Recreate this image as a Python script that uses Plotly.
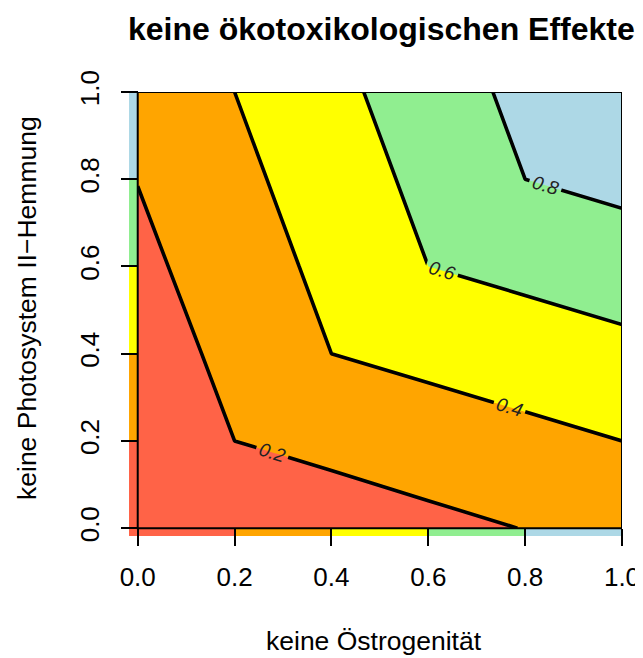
import plotly.graph_objects as go

# ---- data ----
x_vals = [0.0, 0.2, 0.4, 0.6, 0.8, 1.0]          # keine Östrogenität
y_vals = [0.0, 0.2, 0.4, 0.6, 0.8, 1.0]          # keine Photosystem II-Hemmung
z_rows = [                                        # overall value, rows = y
    [0.000, 0.051, 0.103, 0.154, 0.204, 0.25],
    [0.051, 0.20, 0.25, 0.30, 0.35, 0.40],
    [0.103, 0.25, 0.40, 0.45, 0.50, 0.55],
    [0.154, 0.30, 0.45, 0.60, 0.65, 0.70],
    [0.204, 0.35, 0.50, 0.65, 0.80, 0.85],
    [0.250, 0.40, 0.55, 0.70, 0.85, 1.00],
]
levels = [0.2, 0.4, 0.6, 0.8]
class_edges = [0.0, 0.2, 0.4, 0.6, 0.8, 1.0]
class_index = [0, 1, 2, 3, 4]
class_colors = ["#FF6347", "#FFA500", "#FFFF00", "#90EE90", "#ADD8E6"]
tick_vals = [0.0, 0.2, 0.4, 0.6, 0.8, 1.0]
tick_text = ["0.0", "0.2", "0.4", "0.6", "0.8", "1.0"]
strip = 0.018

FONT = "Liberation Sans, Arial, sans-serif"

n = len(class_colors)
step_scale = []
for i, c in enumerate(class_colors):
    lo = max(0.0, (i - 0.5) / (n - 1))
    hi = min(1.0, (i + 0.5) / (n - 1))
    step_scale += [[lo, c], [hi, c]]

heat_scale = []
for i, c in enumerate(class_colors):
    heat_scale += [[i / n, c], [(i + 1) / n, c]]

fig = go.Figure()

# marginal strips
fig.add_trace(go.Heatmap(
    x=[-strip, 0.0], y=class_edges, z=[[k] for k in class_index],
    colorscale=heat_scale, zmin=-0.5, zmax=n - 0.5, showscale=False, hoverinfo="skip"))
fig.add_trace(go.Heatmap(
    x=[-strip] + class_edges[1:], y=[-strip, 0.0], z=[class_index],
    colorscale=heat_scale, zmin=-0.5, zmax=n - 0.5, showscale=False, hoverinfo="skip"))

fig.add_trace(go.Contour(
    x=x_vals, y=y_vals, z=z_rows,
    colorscale=step_scale, showscale=False,
    contours=dict(start=levels[0], end=levels[-1], size=0.2, coloring="fill",
                  showlabels=True,
                  labelfont=dict(family=FONT, size=19, color="#222222", style="italic")),
    line=dict(color="black", width=3.6, smoothing=0),
    hoverinfo="skip"))

fig.add_shape(type="rect", xref="x", yref="y", x0=0, x1=1, y0=0, y1=1,
              line=dict(color="black", width=2), layer="above")

# the page body adds an 8px margin, so the figure is 8px smaller and shifted
fig.update_layout(
    width=635, height=650,
    margin=dict(l=121, r=21, t=84, b=122),
    paper_bgcolor="white", plot_bgcolor="white",
    font=dict(family=FONT, color="black"),
    showlegend=False,
    xaxis=dict(range=[-strip, 1.0], tickvals=tick_vals, ticktext=tick_text,
               ticks="outside", ticklen=17, tickwidth=2, tickcolor="black",
               showgrid=False, zeroline=False, showline=False, automargin=False,
               anchor="free", position=strip / (1 + strip),
               tickfont=dict(size=26, family=FONT, color="black"),
               ticklabelstandoff=9),
    yaxis=dict(range=[-strip, 1.0], tickvals=tick_vals, ticktext=tick_text,
               ticks="outside", ticklen=17, tickwidth=2, tickcolor="black",
               showgrid=False, zeroline=False, showline=False, automargin=False,
               anchor="free", position=strip / (1 + strip),
               tickangle=-90,
               tickfont=dict(size=26, family=FONT, color="black"),
               ticklabelstandoff=11),
    annotations=[
        dict(text="<b>keine ökotoxikologischen Effekte</b>", xref="paper", yref="paper",
             x=(381 - 129) / 493, y=(536 - 29) / 444, xanchor="center", yanchor="middle",
             showarrow=False, font=dict(size=32, family=FONT, color="black")),
        dict(text="keine Östrogenität", xref="paper", yref="paper",
             x=(374 - 129) / 493, y=(536 - 641) / 444, xanchor="center", yanchor="middle",
             showarrow=False, font=dict(size=26.5, family=FONT, color="black")),
        dict(text="keine Photosystem II\u2212Hemmung", xref="paper", yref="paper",
             x=(27 - 129) / 493, y=(536 - 308) / 444, xanchor="center", yanchor="middle",
             textangle=-90, showarrow=False,
             font=dict(size=26.5, family=FONT, color="black")),
    ],
)

fig.write_html("out.html")
